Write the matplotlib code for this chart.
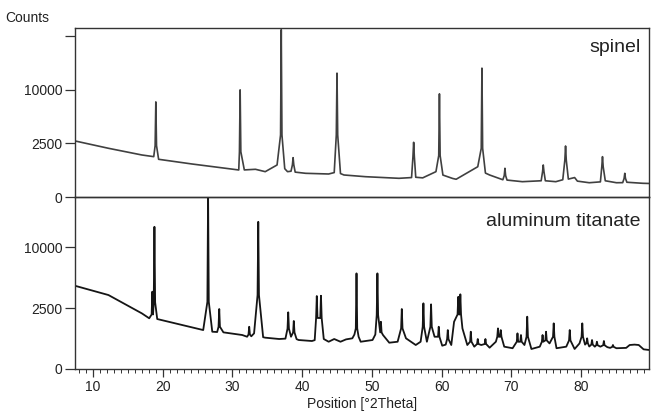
import numpy as np
import matplotlib
matplotlib.use("Agg")
import matplotlib.pyplot as plt
from matplotlib.ticker import MultipleLocator, FixedLocator

plt.rcParams['font.family'] = ['Liberation Sans', 'DejaVu Sans']

# spinel pattern: background points
spinel_bg_2theta = [7.4, 12.2, 17.0, 18.7, 19.4, 24.2, 29.0, 30.9, 31.7, 33.3, 34.7, 36.4,
                    37.5, 37.9, 38.4, 39.0, 40.5, 43.8, 44.6, 45.5, 46.0, 49.1, 53.9, 55.7,
                    56.3, 57.3, 59.2, 60.2, 61.6, 62.1, 65.2, 66.3, 66.9, 68.8, 69.4, 71.6,
                    74.3, 74.9, 76.4, 77.4, 78.2, 79.1, 79.5, 81.2, 82.8, 83.5, 85.1, 86.0,
                    86.6, 88.9, 89.8]
spinel_bg_counts = [2740, 2070, 1540, 1420, 1240, 950, 720, 637, 640, 670, 560, 895,
                    700, 560, 580, 540, 490, 462, 520, 480, 423, 360, 305, 330,
                    340, 320, 560, 420, 300, 275, 800, 500, 423, 260, 250, 205,
                    230, 230, 205, 260, 280, 330, 220, 178, 200, 230, 178, 180,
                    190, 164, 160]
# spinel peaks: position, top, foot of the spike
spinel_peak_pos = [19.0, 31.1, 37.0, 38.7, 45.0, 56.0, 59.7, 65.8, 69.1, 74.6, 77.8, 83.1, 86.3]
spinel_peak_top = [7880, 10000, 24400, 1350, 13370, 2610, 9270, 14470, 720, 895, 2270, 1420, 490]
spinel_peak_foot = [2300, 1790, 3360, 900, 3360, 1420, 1500, 2070, 400, 560, 1200, 800, 300]

# aluminum titanate pattern
at_bg_2theta = [7.4, 12.2, 17.0, 18.05, 19.2, 21.8, 25.8, 27.1, 27.8, 28.7, 31.4, 32.1,
                32.7, 33.1, 34.4, 34.7, 36.7, 37.6, 38.4, 39.2, 39.5, 41.4, 41.8, 43.1,
                43.8, 44.6, 45.5, 46.3, 47.2, 47.5, 48.1, 48.4, 50.1, 50.5, 51.6, 52.5,
                53.7, 54.9, 56.3, 57.0, 57.9, 59.0, 60.1, 60.6, 61.4, 61.8, 63.0, 63.7,
                64.7, 65.7, 66.9, 67.8, 69.0, 70.2, 71.9, 72.9, 74.1, 75.5, 76.5, 77.9,
                79.1, 79.8, 80.6, 81.2, 82.0, 82.8, 83.8, 84.2, 85.1, 86.5, 87.0, 87.7,
                88.3, 89.0, 89.8]
at_bg_counts = [4660, 3680, 2080, 1730, 1680, 1400, 1020, 935, 920, 903, 777, 700,
                720, 855, 680, 660, 605, 620, 700, 600, 565, 527, 560, 605,
                500, 605, 500, 590, 633, 800, 700, 500, 565, 800, 777, 465,
                500, 633, 387, 500, 500, 700, 365, 400, 387, 1500, 1110, 387,
                335, 387, 305, 500, 335, 290, 387, 269, 335, 440, 290, 335,
                269, 440, 400, 340, 335, 335, 320, 300, 290, 300, 387, 400,
                387, 260, 243]
at_peak_pos = [18.5, 18.8, 26.5, 28.1, 32.4, 33.7, 38.0, 38.8, 42.1, 42.7, 47.8, 50.8,
               51.3, 54.3, 57.4, 58.5, 59.6, 60.9, 62.4, 62.7, 64.2, 65.2, 66.3, 68.1,
               68.5, 70.9, 71.4, 72.3, 74.5, 75.0, 76.1, 78.4, 80.2, 80.9, 81.6, 82.3,
               83.3, 84.6]
at_peak_top = [4020, 13600, 20500, 2420, 1200, 14570, 2160, 1550, 3580, 3610, 6150, 6150,
               1500, 2420, 2900, 2810, 1200, 1020, 3500, 3750, 935, 605, 605, 1110,
               1020, 855, 777, 1840, 777, 935, 1400, 1020, 1400, 633, 565, 500,
               527, 387]
at_peak_foot = [2000, 3000, 3040, 1200, 800, 3680, 1100, 900, 1750, 1750, 1110, 1960,
                900, 1110, 1200, 1200, 700, 600, 2000, 2000, 500, 420, 420, 700,
                700, 500, 500, 700, 500, 550, 700, 550, 700, 450, 400, 380,
                380, 330]

x_tick_labels = [10, 20, 30, 40, 50, 60, 70, 80]


def build_pattern(bg_x, bg_y, pos, top, foot, hw=0.1):
    pts = list(zip(bg_x, bg_y))
    for p, t, f in zip(pos, top, foot):
        pts += [(p - hw, f), (p, t), (p + hw, f)]
    pts.sort(key=lambda q: q[0])
    return np.array([q[0] for q in pts]), np.array([q[1] for q in pts])


def fwd(y):
    return np.sqrt(np.maximum(y, 0))


def inv(y):
    return np.asarray(y) ** 2


fig = plt.figure(figsize=(6.51, 4.16), dpi=100)
ax1 = fig.add_axes([0.1152, 0.5264, 0.882, 0.4063])
ax2 = fig.add_axes([0.1152, 0.1130, 0.882, 0.4134])

x1, y1 = build_pattern(spinel_bg_2theta, spinel_bg_counts, spinel_peak_pos,
                       spinel_peak_top, spinel_peak_foot)
x2, y2 = build_pattern(at_bg_2theta, at_bg_counts, at_peak_pos,
                       at_peak_top, at_peak_foot)

ax1.plot(x1, y1, color='#404040', lw=1.2)
ax2.plot(x2, y2, color='#151515', lw=1.3)

for ax in (ax1, ax2):
    ax.set_facecolor('none')
    ax.set_yscale('function', functions=(fwd, inv))
    ax.set_xlim(7.4, 89.8)
    for s in ax.spines.values():
        s.set_color('#333333')
        s.set_linewidth(1.0)
    ax.tick_params(axis='y', length=7, width=0.9, color='#333333',
                   labelsize=10, labelcolor='#222222', pad=2)

ax1.set_ylim(0, 24900)
ax1.set_yticks([0, 2500, 10000, 22500])
ax1.set_yticklabels(['0', '2500', '10000', ''])
ax1.set_xticks([])

ax2.set_ylim(0, 19900)
ax2.set_yticks([0, 2500, 10000])
ax2.set_yticklabels(['0', '2500', '10000'])
ax2.xaxis.set_major_locator(FixedLocator(x_tick_labels))
ax2.xaxis.set_minor_locator(MultipleLocator(1))
ax2.tick_params(axis='x', which='major', length=6, width=0.9, color='#333333',
                labelsize=10, labelcolor='#222222', pad=2)
ax2.tick_params(axis='x', which='minor', length=3, width=0.7, color='#333333')
ax2.set_xlabel("Position [°2Theta]", fontsize=10, color='#222222', labelpad=2)

ax1.text(0.985, 0.885, "spinel", transform=ax1.transAxes, ha='right', va='center',
         fontsize=14, color='#222222')
ax2.text(0.985, 0.86, "aluminum titanate", transform=ax2.transAxes, ha='right',
         va='center', fontsize=14, color='#222222')
fig.text(0.008, 0.957, "Counts", ha='left', va='center', fontsize=10, color='#222222')

fig.savefig("out.png", dpi=100)
